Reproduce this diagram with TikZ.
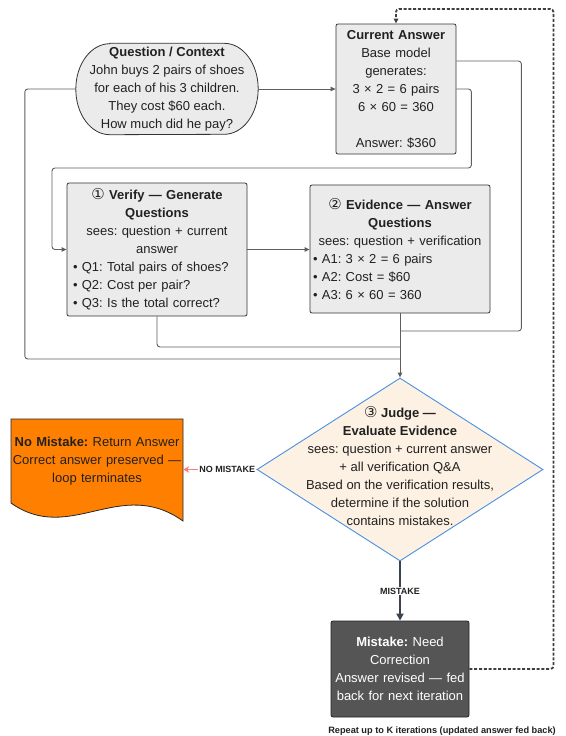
\documentclass[tikz,border=0pt]{standalone}
\usepackage{fontspec}
\setmainfont{Liberation Sans}
\newfontfamily\circfont{DejaVu Sans}
\usepackage{xcolor}
\usetikzlibrary{arrows.meta, calc, positioning, shapes.geometric, backgrounds}
\frenchspacing
\newcommand{\stepno}[1]{{\circfont\mdseries\fontsize{15}{18}\selectfont #1}}

\definecolor{boxfill}{HTML}{EBEBEB}
\definecolor{boxline}{HTML}{333333}
\definecolor{linkgray}{HTML}{5E5E5E}
\definecolor{judgefill}{HTML}{FDF1E3}
\definecolor{judgeline}{HTML}{4A90E2}
\definecolor{stopfill}{HTML}{FF8000}
\definecolor{fixfill}{HTML}{555555}
\definecolor{fixline}{HTML}{222222}
\definecolor{arrowdark}{HTML}{3B4250}
\definecolor{nopink}{HTML}{FF7B7B}
\definecolor{loopgray}{HTML}{3F3F3F}

\begin{document}
\begin{tikzpicture}[x=1pt, y=-1pt,
  font=\fontsize{13}{18}\selectfont,
  every node/.style={inner sep=0pt, text=black!87},
  card/.style={draw=boxline, fill=boxfill, line width=0.8pt, rounded corners=2pt},
  link/.style={draw=linkgray, line width=0.9pt, rounded corners=3pt},
  tip/.style={-{Triangle[length=5pt, width=4.5pt]}},
  decision/.style={diamond, draw=judgeline, fill=judgefill, line width=0.9pt},
  edgelabel/.style={font=\fontsize{9}{11}\selectfont\bfseries, fill=white, inner sep=1pt},
  nolink/.style={draw=nopink, line width=1.6pt, -{Stealth[length=6pt, width=6.5pt]}},
  yeslink/.style={draw=arrowdark, line width=2pt, -{Triangle[length=7pt, width=7pt]}},
  feedback/.style={draw=loopgray, line width=1.8pt, dash pattern=on 3pt off 1.8pt, rounded corners=3pt}
]
\useasboundingbox (0,0) rectangle (565,736);

% Question (stadium drawn behind its text)
\node[minimum width=182pt, minimum height=91pt, align=center] (q) at (167,89)
  {\textbf{Question / Context}\\John buys 2 pairs of shoes\\for each of his 3 children.\\They cost \$60 each.\\How much did he pay?};
\begin{scope}[on background layer]
\draw[card, sharp corners] ([xshift=34pt]q.north west) -- ([xshift=-34pt]q.north east)
  arc[start angle=90, end angle=-90, x radius=34pt, y radius=45.5pt]
  -- ([xshift=34pt]q.south west)
  arc[start angle=270, end angle=90, x radius=34pt, y radius=45.5pt] -- cycle;
\end{scope}

% Current answer
\node[card, minimum width=120pt, minimum height=130pt, text width=112pt, align=center] (ca) at (396,89)
  {\textbf{Current Answer}\\Base model\\generates:\\3 × 2 = 6 pairs\\6 × 60 = 360\\[18pt]Answer: \$360};

% Step 1 and step 2
\node[card, minimum width=180pt, minimum height=133pt, text width=168pt, align=left] (v) at (157,249.5)
  {{\centering\textbf{\stepno{①} Verify — Generate}\\\textbf{Questions}\\sees: question + current\\answer\par}
   • Q1: Total pairs of shoes?\\• Q2: Cost per pair?\\• Q3: Is the total correct?\par};
\node[card, minimum width=180pt, minimum height=128pt, text width=174pt, align=left] (e) at (400,249)
  {{\centering\textbf{\stepno{②} Evidence — Answer}\\\textbf{Questions}\\sees: question + verification\par}
   • A1: 3 × 2 = 6 pairs\\• A2: Cost = \$60\\• A3: 6 × 60 = 360\par};

% Step 3: judge
\node[decision, minimum width=286pt, minimum height=183pt] (j) at (400,469.5) {};
\node[align=center] (jt) at (400,466)
  {\textbf{\stepno{③} Judge —}\\\textbf{Evaluate Evidence}\\sees: question + current answer\\+ all verification Q\&A\\Based on the verification results,\\determine if the solution\\contains mistakes.};

% Outcomes
\node[text width=172pt, align=center] (nm) at (97,461)
  {\textbf{No Mistake:} Return Answer\\Correct answer preserved —\\loop terminates};
\begin{scope}[on background layer]
\draw[fill=stopfill, draw=black!85, line width=0.8pt] (11,419) -- (183,419) -- (183,521)
  .. controls (120,476) and (70,545) .. (11,503) -- cycle;
\end{scope}
\node[card, fill=fixfill, draw=fixline, text=white, minimum width=138pt, minimum height=96pt,
  text width=132pt, align=center] (mk) at (400,669)
  {\textbf{Mistake:} Need\\Correction\\Answer revised — fed\\back for next iteration};

\node[font=\fontsize{9.2}{11}\selectfont\bfseries] (note) at (442,731)
  {Repeat up to K iterations (updated answer fed back)};

% Connectors
\coordinate (backV) at (52,168);
\coordinate (joinA) at (400,331);
\coordinate (joinV) at (400,347);
\coordinate (joinQ) at (400,359);
\coordinate (loopTop) at (396,9);

\draw[link, tip] (q.east) -- (ca.west);
\draw[link, tip] (ca.east) -- ++(15,0) |- (backV) |- (v.west);
\draw[link, tip] (v.east) -- (v.east -| e.west);
\draw[link] ([yshift=28pt]ca.east) -- ++(65,0) |- (joinA);
\draw[link] (v.south) |- (joinV);
\draw[link] (q.west) -- ++(-51,0) |- (joinQ);
\draw[link, tip] (e.south) -- (j.north);

\draw[nolink] (j.west) -- node[edgelabel, pos=0.4] {NO MISTAKE} (j.west -| nm.east);
\draw[yeslink] (j.south) -- node[edgelabel] {MISTAKE} (mk.north);

% Feedback loop
\draw[feedback, tip] (mk.east) -- ++(84,0) |- (loopTop) -- (ca.north);
\end{tikzpicture}
\end{document}
